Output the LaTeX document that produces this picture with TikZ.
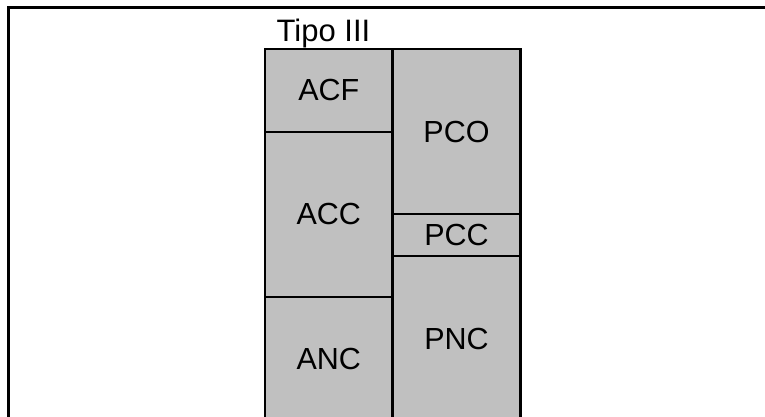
\documentclass[tikz,border=0pt]{standalone}
\usepackage{fontspec}
\setmainfont{Liberation Sans}
\definecolor{cellgray}{RGB}{192,192,192}
\begin{document}
\begin{tikzpicture}[x=1pt,y=-1pt,
  cell/.style={draw, line width=2.2pt, fill=cellgray, inner sep=0pt,
    font=\fontsize{30.5}{36}\selectfont},
  frame/.style={line width=2.4pt}]
\clip (0,0) rectangle (765,416);
\fill[white] (0,0) rectangle (765,416);
\draw[frame] (8.5,440) -- (8.5,7.5) -- (790,7.5);
\node[cell, minimum width=127.5pt, minimum height=82.7pt] (acf) at (328.75,90.35) {ACF};
\node[cell, minimum width=127.5pt, minimum height=165pt] (acc) at (328.75,214.2) {ACC};
\node[cell, minimum width=127.5pt, minimum height=124.3pt] (anc) at (328.75,358.85) {ANC};
\node[cell, minimum width=128pt, minimum height=165pt] (pco) at (456.5,131.5) {PCO};
\node[cell, minimum width=128pt, minimum height=41.7pt] (pcc) at (456.5,234.85) {PCC};
\node[cell, minimum width=128pt, minimum height=165.8pt] (pnc) at (456.5,338.6) {PNC};
\node[anchor=base west, inner sep=0pt, font=\fontsize{31}{37}\selectfont] (tipo) at (276.5,41.7) {Tipo III};
\end{tikzpicture}
\end{document}
